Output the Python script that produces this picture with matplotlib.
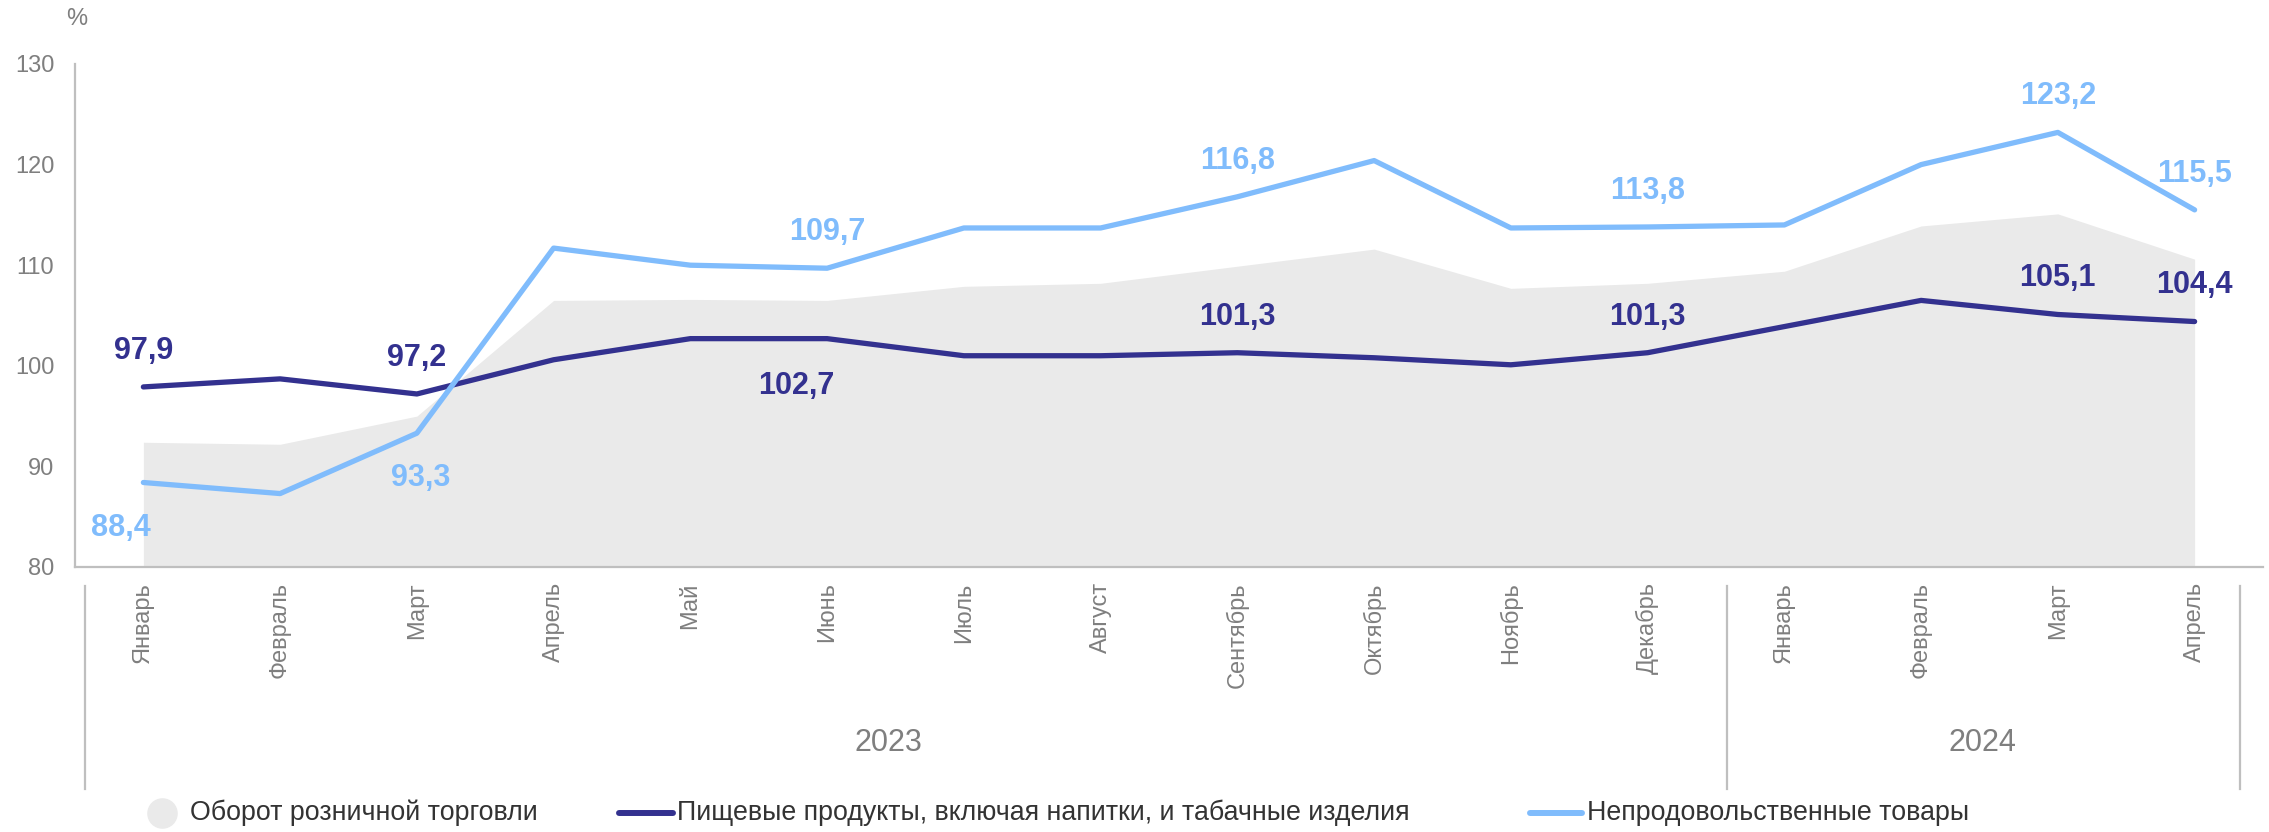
import matplotlib
matplotlib.use("Agg")
import matplotlib.pyplot as plt
import matplotlib.transforms as mtransforms
from matplotlib.lines import Line2D

plt.rcParams["font.family"] = ["Liberation Sans", "DejaVu Sans"]

# Данные
months = ["Январь", "Февраль", "Март", "Апрель", "Май", "Июнь", "Июль", "Август",
          "Сентябрь", "Октябрь", "Ноябрь", "Декабрь",
          "Январь", "Февраль", "Март", "Апрель"]
years = ["2023", "2024"]
year_sizes = [12, 4]

retail = [92.4, 92.2, 95.0, 106.5, 106.6, 106.5, 107.9, 108.2,
          109.9, 111.6, 107.7, 108.2, 109.4, 113.9, 115.1, 110.6]
food = [97.9, 98.7, 97.2, 100.6, 102.7, 102.7, 101.0, 101.0,
        101.3, 100.8, 100.1, 101.3, 103.9, 106.5, 105.1, 104.4]
nonfood = [88.4, 87.3, 93.3, 111.7, 110.0, 109.7, 113.7, 113.7,
           116.8, 120.4, 113.7, 113.8, 114.0, 120.0, 123.2, 115.5]

retail_name = "Оборот розничной торговли"
food_name = "Пищевые продукты, включая напитки, и табачные изделия"
nonfood_name = "Непродовольственные товары"

# какие точки подписаны
food_labels = [0, 2, 5, 8, 11, 14, 15]
nonfood_labels = [0, 2, 5, 8, 11, 14, 15]

c_food = "#33318F"
c_nonfood = "#80BCFC"
c_retail = "#EAEAEA"
c_axis = "#BFBFBF"
c_text = "#7F7F7F"

fig = plt.figure(figsize=(22.69, 8.32), dpi=100)
ax = fig.add_axes([0.03305, 0.31851, 0.96430, 0.60457])

x = list(range(len(months)))
ax.fill_between(x, 80, retail, color=c_retail, lw=0, zorder=1)
ax.plot(x, food, color=c_food, lw=3.8, solid_capstyle="round", zorder=3)
ax.plot(x, nonfood, color=c_nonfood, lw=3.8, solid_capstyle="round", zorder=3)

ax.set_xlim(-0.5, 15.5)
ax.set_ylim(80, 130)
ax.set_yticks(range(80, 131, 10))
ax.set_xticks(x)
ax.set_xticklabels(months, rotation=90, va="top", ha="center")
ax.tick_params(axis="y", length=0, pad=15, labelsize=17, labelcolor=c_text)
ax.tick_params(axis="x", length=0, pad=11, labelsize=17, labelcolor=c_text)

for s in ["top", "right"]:
    ax.spines[s].set_visible(False)
for s in ["left", "bottom"]:
    ax.spines[s].set_color(c_axis)
    ax.spines[s].set_linewidth(1.6)

# подписи значений
def fmt(v):
    return f"{v:.1f}".replace(".", ",")

below = {("nonfood", 0): (-16, -33), ("nonfood", 2): (3, -32), ("food", 5): (-22, -34)}

for name, series, idxs, col in [("food", food, food_labels, c_food),
                                ("nonfood", nonfood, nonfood_labels, c_nonfood)]:
    for i in idxs:
        off = below.get((name, i), (0, 26))
        ax.annotate(fmt(series[i]), (i, series[i]), xytext=off,
                    textcoords="offset points", ha="center", va="center",
                    fontsize=22, fontweight="bold", color=col, zorder=4)

# многоуровневая ось: разделители и годы
trans = mtransforms.blended_transform_factory(ax.transData, ax.transAxes)
for xs in [-0.43, 11.58, 15.33]:
    ax.plot([xs, xs], [-0.038, -0.441], transform=trans, color=c_axis,
            lw=1.6, clip_on=False)
start = 0
for yr, n in zip(years, year_sizes):
    mid = start + (n - 1) / 2
    ax.text(mid - 0.05, -0.35, yr, transform=trans, ha="center", va="center",
            fontsize=22, color=c_text)
    start += n

fig.text(77 / 2269, 1 - 19 / 832, "%", ha="center", va="center",
         fontsize=17, color=c_text)

# легенда
ly = 1 - 813 / 832
fig.add_artist(Line2D([162 / 2269], [ly], marker="o", markersize=21,
                      color=c_retail, lw=0))
fig.text(190 / 2269, ly, retail_name, ha="left", va="center",
         fontsize=19.3, color="#333333")
fig.add_artist(Line2D([619 / 2269, 673 / 2269], [ly, ly], color=c_food,
                      lw=4.3, solid_capstyle="round"))
fig.text(677 / 2269, ly, food_name, ha="left", va="center",
         fontsize=19.3, color="#333333")
fig.add_artist(Line2D([1530 / 2269, 1582 / 2269], [ly, ly], color=c_nonfood,
                      lw=4.3, solid_capstyle="round"))
fig.text(1587 / 2269, ly, nonfood_name, ha="left", va="center",
         fontsize=19.3, color="#333333")

fig.savefig("out.png", dpi=100)
